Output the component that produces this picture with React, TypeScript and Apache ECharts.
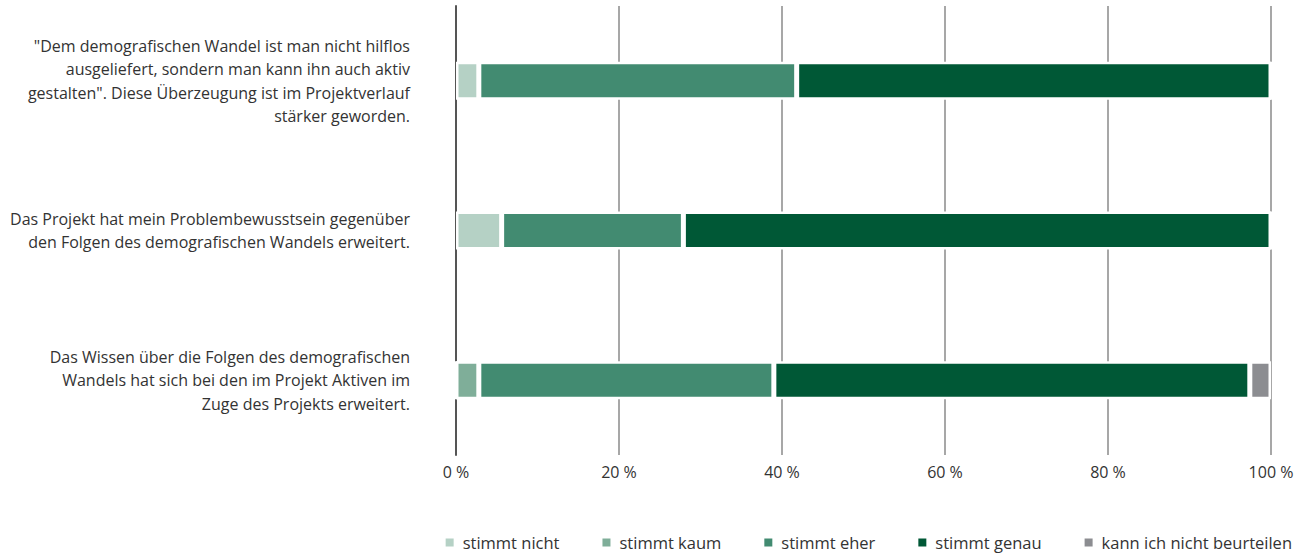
import React, { useEffect, useRef } from "react";
import * as echarts from "echarts";

const categories = [
  '"Dem demografischen Wandel ist man nicht hilflos\nausgeliefert, sondern man kann ihn auch aktiv\ngestalten". Diese Überzeugung ist im Projektverlauf\nstärker geworden.',
  "Das Projekt hat mein Problembewusstsein gegenüber\nden Folgen des demografischen Wandels erweitert.",
  "Das Wissen über die Folgen des demografischen\nWandels hat sich bei den im Projekt Aktiven im\nZuge des Projekts erweitert.",
];
const seriesNames = ["stimmt nicht", "stimmt kaum", "stimmt eher", "stimmt genau", "kann ich nicht beurteilen"];
const stimmtNicht = [2.8, 5.6, 0];
const stimmtKaum = [0, 0, 2.8];
const stimmtEher = [39.0, 22.3, 36.2];
const stimmtGenau = [58.2, 72.1, 58.4];
const kannNicht = [0, 0, 2.6];
const colors = ["#b5d1c5", "#7fae99", "#428b71", "#005836", "#8c8d91"];
const xTicks = [0, 20, 40, 60, 80, 100];

export default function App() {
  const ref = useRef<HTMLDivElement>(null);
  useEffect(() => {
    if (!ref.current) return;
    const chart = echarts.init(ref.current, null, { renderer: "svg" });
    const values = [stimmtNicht, stimmtKaum, stimmtEher, stimmtGenau, kannNicht];
    const font = "'Open Sans', sans-serif";
    chart.setOption({
      animation: false,
      textStyle: { fontFamily: font },
      grid: { left: 456, right: 36, top: 6, bottom: 100, containLabel: false },
      legend: {
        data: seriesNames,
        right: 10,
        top: 529,
        icon: "rect",
        itemWidth: 10,
        itemHeight: 10,
        itemGap: 41,
        textStyle: { fontSize: 16.5, color: "#333", fontFamily: font, padding: [0, 0, 0, 3] },
      },
      xAxis: {
        type: "value",
        min: 0,
        max: 100,
        interval: 20,
        axisLine: { show: false },
        axisTick: { show: false },
        splitLine: { show: true, lineStyle: { color: "#8a8a8a", width: 1.5 } },
        axisLabel: {
          formatter: (v: number) => (xTicks.includes(v) ? `${v} %` : ""),
          fontSize: 16,
          color: "#333",
          margin: 9,
          fontFamily: font,
        },
      },
      yAxis: {
        type: "category",
        data: categories,
        inverse: true,
        axisLine: { show: true, lineStyle: { color: "#555", width: 2 } },
        axisTick: { show: false },
        axisLabel: {
          fontSize: 16,
          color: "#333",
          lineHeight: 23.5,
          align: "right",
          margin: 46,
          fontFamily: font,
        },
      },
      series: seriesNames.map((name, i) => ({
        name,
        type: "bar",
        stack: "total",
        barWidth: 38,
        data: values[i],
        itemStyle: { color: colors[i], borderColor: "#fff", borderWidth: 2.5 },
      })),
    });
    return () => chart.dispose();
  }, []);
  return (
    <div
      ref={ref}
      style={{ position: "absolute", left: 0, top: 0, width: 1307, height: 555 }}
    />
  );
}
